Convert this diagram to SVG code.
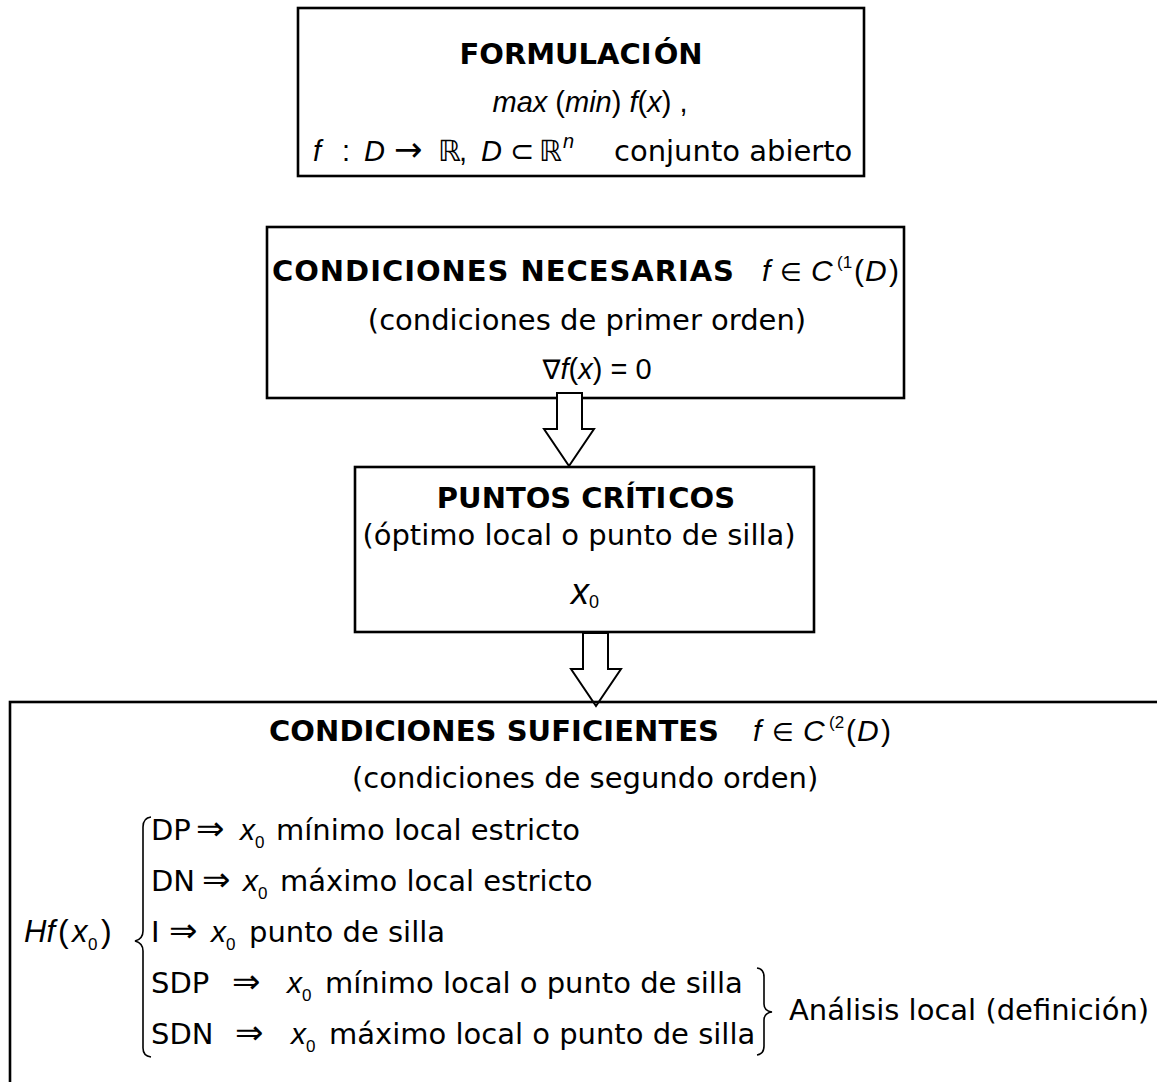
<svg xmlns="http://www.w3.org/2000/svg" width="1157" height="1082" viewBox="0 0 1157 1082">
<style>
.t{font-family:"DejaVu Sans",Verdana,sans-serif;font-size:29px;fill:#000}
.b{font-weight:bold}
.m{font-family:"Liberation Sans",Arial,sans-serif}
.i{font-style:italic}
.s{font-family:"DejaVu Sans",sans-serif}
.box{fill:#fff;stroke:#000;stroke-width:2.6}
.open{fill:none;stroke:#000;stroke-width:2.6}
.arrow{fill:#fff;stroke:#000;stroke-width:2}
.brace{fill:none;stroke:#000;stroke-width:1.6}
</style>
<rect width="1157" height="1082" fill="#fff"/>
<g id="formulacion">
<rect class="box" x="298" y="8" width="566" height="168"/>
<text class="t b" x="581" y="64" text-anchor="middle" font-size="28">FORMULACI<tspan dx="2">ÓN</tspan></text>
<text class="t m" x="590" y="112" text-anchor="middle" font-size="27"><tspan class="i">max</tspan> (<tspan class="i">min</tspan>) <tspan class="i">f</tspan>(<tspan class="i">x</tspan>) ,</text>
<text class="t m" y="161" font-size="30"><tspan class="i" x="313">f</tspan><tspan x="342">:</tspan><tspan class="i" x="364">D</tspan><tspan class="s" x="394" font-size="34">→</tspan><tspan class="s" x="438">ℝ</tspan><tspan x="459">,</tspan><tspan class="i" x="481">D</tspan><tspan class="s" x="510">⊂</tspan><tspan class="s" x="539">ℝ</tspan><tspan class="i" x="563" dy="-13" font-size="20">n</tspan><tspan class="s" x="614" dy="13" font-size="29">conjunto abierto</tspan></text>
</g>
<g id="necesarias">
<rect class="box" x="267" y="227" width="637" height="171"/>
<text class="t" y="281"><tspan class="b" x="272" textLength="462" lengthAdjust="spacing">CONDICIONES NECESARIAS</tspan><tspan class="m i" x="762" font-size="30">f</tspan><tspan class="s" x="780" font-size="25">∈</tspan><tspan class="m i" x="811" font-size="30">C</tspan><tspan class="m" x="837" dy="-13" font-size="17">(1</tspan><tspan class="m" x="854" dy="13" font-size="30">(</tspan><tspan class="m i" x="865" font-size="30">D</tspan><tspan class="m" x="889" font-size="30">)</tspan></text>
<text class="t" x="587" y="330" text-anchor="middle">(condiciones de primer orden)</text>
<text class="t m" x="597" y="379" text-anchor="middle" font-size="31"><tspan class="s" font-size="27">∇</tspan><tspan class="i">f</tspan>(<tspan class="i">x</tspan>) = 0</text>
</g>
<g id="criticos">
<rect class="box" x="355" y="467" width="459" height="165"/>
<text class="t b" x="586" y="508" text-anchor="middle">PUNTOS CRÍTI<tspan dx="2">COS</tspan></text>
<text class="t" x="579" y="545" text-anchor="middle" font-size="30">(óptimo local o punto de silla)</text>
<text class="t m" y="604"><tspan class="i" x="571" font-size="36">x</tspan><tspan x="589" dy="4" font-size="18">0</tspan></text>
</g>
<g id="connectors">
<path class="arrow" d="M557,393 L582,393 L582,429 L594,429 L569,466 L544,429 L557,429 Z"/>
<path class="arrow" d="M583,633 L608,633 L608,669 L621,669 L596,706 L571,669 L583,669 Z"/>
</g>
<g id="suficientes">
<rect class="open" x="10" y="702" width="1160" height="400"/>
<text class="t" y="741"><tspan class="b" x="269" textLength="450" lengthAdjust="spacing">CONDICIONES SUFICIENTES</tspan><tspan class="m i" x="753" font-size="30">f</tspan><tspan class="s" x="772" font-size="25">∈</tspan><tspan class="m i" x="803" font-size="30">C</tspan><tspan class="m" x="829" dy="-13" font-size="17">(2</tspan><tspan class="m" x="846" dy="13" font-size="30">(</tspan><tspan class="m i" x="857" font-size="30">D</tspan><tspan class="m" x="881" font-size="30">)</tspan></text>
<text class="t" x="352" y="788">(condiciones de segundo orden)</text>
<text class="t" y="942"><tspan class="m i" x="24" font-size="31">Hf</tspan><tspan class="m" x="58" font-size="32">(</tspan><tspan class="m i" x="72" font-size="31">x</tspan><tspan class="m" x="88" dy="8" font-size="17">0</tspan><tspan class="m" x="101" dy="-8" font-size="32">)</tspan></text>
<path class="brace" d="M151,817 Q143,818 143,827 L143,931 Q143,939 135,941 Q143,943 143,951 L143,1048 Q143,1056 151,1057"/>
<text class="t" y="840"><tspan x="151">DP</tspan><tspan x="196" font-size="34">⇒</tspan><tspan class="m i" x="240" font-size="30">x</tspan><tspan class="m" x="255" dy="8" font-size="17">0</tspan><tspan x="276" dy="-8">mínimo local estricto</tspan></text>
<text class="t" y="891"><tspan x="151">DN</tspan><tspan x="202" font-size="34">⇒</tspan><tspan class="m i" x="243" font-size="30">x</tspan><tspan class="m" x="258" dy="8" font-size="17">0</tspan><tspan x="280" dy="-8">máximo local estricto</tspan></text>
<text class="t" y="942"><tspan x="151">I</tspan><tspan x="169" font-size="34">⇒</tspan><tspan class="m i" x="211" font-size="30">x</tspan><tspan class="m" x="226" dy="8" font-size="17">0</tspan><tspan x="249" dy="-8">punto de silla</tspan></text>
<text class="t" y="993"><tspan x="151">SDP</tspan><tspan x="232" font-size="34">⇒</tspan><tspan class="m i" x="287" font-size="30">x</tspan><tspan class="m" x="302" dy="8" font-size="17">0</tspan><tspan x="325" dy="-8">mínimo local o punto de silla</tspan></text>
<text class="t" y="1044"><tspan x="151">SDN</tspan><tspan x="235" font-size="34">⇒</tspan><tspan class="m i" x="291" font-size="30">x</tspan><tspan class="m" x="306" dy="8" font-size="17">0</tspan><tspan x="329" dy="-8">máximo local o punto de silla</tspan></text>
<path class="brace" d="M757,968 Q764,969 764,977 L764,1004 Q764,1011 772,1012 Q764,1013 764,1020 L764,1046 Q764,1054 757,1055"/>
<text class="t" x="789" y="1020">Análisis local (definición)</text>
</g>
</svg>
